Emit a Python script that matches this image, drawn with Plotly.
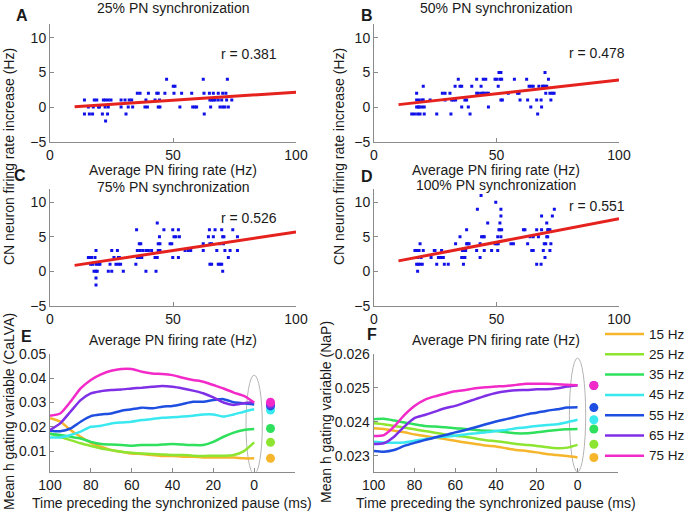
import plotly.graph_objects as go

# ---------------- data ----------------
A_points = [(14.0,1),(14.0,-1),(15.6,0),(16.0,-1),(17.3,-1),(17.6,0),(18.0,1),(19.0,1),(19.7,0),(20.1,0),
            (21.7,1),(21.3,-1),(22.4,0),(22.6,1),(22.6,-2),(23.4,-1),(23.7,1),(24.8,1),(23.7,0),(28.9,1),
            (28.9,0),(30.5,1),(30.9,-1),(31.8,0),(32.2,1),(33.2,1),(33.6,0),(35.5,2),(36.6,2),(39.0,1),
            (38.6,0),(39.6,0),(40.0,2),(42.7,1),(43.4,2),(44.0,2),(44.0,0),(44.7,0),(44.5,1),(46.7,2),
            (47.4,4),(50.1,3),(50.8,3),(50.4,2),(52.8,0),(53.5,2),(57.6,2),(58.0,0),(58.9,0),(59.6,0),
            (62.3,4),(62.6,2),(62.7,-1),(64.8,2),(65.0,1),(65.3,0),(65.7,1),(66.4,2),(66.4,1),(67.1,1),
            (68.4,2),(68.4,1),(69.1,0),(69.8,1),(70.2,2),(70.2,0),(71.1,0),(71.5,2),(72.1,4),(71.8,1),
            (72.5,0),(73.9,1)]
B_points = [(15.4,-1),(16.5,-1),(17.4,1),(17.4,0),(17.4,2),(17.8,-1),(18.1,0),(18.5,0),(18.5,1),(18.8,-1),
            (19.5,0),(19.7,1),(20.1,3),(20.1,1),(20.5,0),(20.5,-1),(22.9,1),(25.6,-1),(27.9,2),(29.0,2),
            (29.0,1),(31.0,2),(31.4,-1),(31.7,1),(32.4,1),(33.1,3),(33.3,1),(34.4,4),(35.1,3),(35.8,3),
            (35.8,0),(37.1,1),(37.8,1),(38.5,0),(39.2,-1),(39.9,3),(41.9,4),(41.9,2),(42.6,2),(43.7,3),
            (43.9,2),(44.6,2),(44.6,4),(45.0,2),(45.6,4),(46.7,0),(46.0,2),(46.7,2),(49.4,4),(50.1,4),
            (50.7,3),(51.0,5),(51.8,5),(51.4,4),(51.8,1),(52.4,1),(52.1,4),(54.8,2),(57.3,4),(58.6,2),
            (59.2,2),(59.6,1),(62.3,4),(62.7,1),(63.3,3),(64.0,0),(64.1,3),(65.0,3),(66.4,1),(66.8,-1),
            (67.3,3),(68.2,1),(68.4,0),(68.8,3),(69.1,3),(69.8,5),(69.8,3),(70.1,2),(70.5,3),(71.2,4),
            (71.8,2),(72.2,1),(72.8,2),(73.5,2)]
C_points = [(15.6,2),(16.3,2),(16.9,2),(16.5,1),(17.3,1),(18.3,2),(18.7,3),(18.7,1),(17.9,0),(18.7,0),
            (19.2,0),(18.7,-1),(18.7,-2),(19.6,1),(20.3,1),(23.7,0),(24.4,1),(25.1,0),(25.1,3),(26.0,2),
            (26.8,1),(27.4,3),(27.8,2),(28.2,2),(27.8,1),(28.7,1),(29.8,0),(34.9,1),(35.2,6),(35.5,3),
            (35.5,2),(36.3,2),(36.3,4),(36.9,4),(36.6,3),(37.3,2),(37.7,3),(39.0,0),(39.0,3),(40.0,3),
            (41.3,3),(42.7,2),(43.1,0),(43.6,7),(43.6,2),(44.0,4),(44.5,5),(44.0,3),(44.7,3),(44.7,4),
            (46.3,6),(48.8,4),(49.5,4),(49.9,6),(49.9,2),(50.4,5),(51.2,5),(52.2,6),(52.2,2),(52.6,5),
            (54.9,3),(56.2,3),(57.2,3),(62.3,4),(62.3,3),(64.4,5),(64.8,6),(65.0,4),(65.0,1),(65.7,4),
            (65.7,1),(66.4,5),(67.1,6),(67.8,3),(68.4,1),(69.1,4),(69.1,1),(69.8,6),(69.8,1),(70.2,5),
            (70.2,0),(70.5,4),(70.7,5),(71.1,3),(72.5,2),(73.2,3),(74.3,6),(76.2,5),(76.2,3)]
D_points = [(16.7,3),(17.4,3),(17.8,2),(17.4,1),(18.1,1),(17.8,0),(18.4,3),(18.8,4),(18.8,1),(19.2,2),
            (19.7,1),(20.1,3),(23.3,2),(24.6,3),(24.9,3),(25.6,1),(26.3,2),(26.9,2),(27.6,3),(27.9,2),
            (28.3,2),(28.7,1),(30.3,1),(33.3,4),(35.1,5),(35.8,2),(36.1,3),(36.5,1),(36.5,2),(36.9,3),
            (37.1,2),(37.4,3),(37.8,6),(37.8,4),(38.2,4),(38.8,4),(41.9,3),(42.2,9),(43.3,2),(43.3,4),
            (43.7,11),(43.9,5),(44.6,5),(45.0,5),(45.0,3),(46.4,7),(48.0,3),(49.4,4),(49.7,10),(50.1,4),
            (50.5,5),(50.5,3),(50.7,4),(51.0,6),(51.4,7),(51.4,6),(51.8,9),(51.8,8),(52.1,6),(51.8,5),
            (55.9,4),(56.9,4),(61.0,6),(61.6,6),(62.7,4),(63.7,5),(64.4,3),(65.0,3),(65.0,5),(66.4,6),
            (66.4,1),(67.1,5),(68.2,1),(68.4,8),(68.4,6),(69.1,3),(69.5,4),(69.8,2),(70.1,4),(70.5,7),
            (70.5,5),(70.9,6),(70.9,5),(71.2,6),(71.8,3),(71.8,6),(72.2,4),(72.8,8),(73.6,9)]

fit_x = [10, 100]
fit_A = [0.05, 2.15]
fit_B = [0.35, 3.9]
fit_C = [0.85, 5.7]
fit_D = [1.5, 7.6]
r_labels = ["r = 0.381", "r = 0.478", "r = 0.526", "r = 0.551"]
sync_titles = ["25% PN synchronization", "50% PN synchronization",
               "75% PN synchronization", "100% PN synchronization"]

freq_labels = ["15 Hz", "25 Hz", "35 Hz", "45 Hz", "55 Hz", "65 Hz", "75 Hz"]
freq_colors = ["#f6b62c", "#8ee531", "#2ee05c", "#3ae8f0", "#1f4fe0", "#7f2fe6", "#f22ac8"]

time_ms = [100, 95, 90, 85, 80, 75, 70, 65, 60, 55, 50, 45, 40, 35, 30, 25, 20, 15, 10, 5, 0]

E_15 = [0.0235,0.0221,0.0187,0.0159,0.0134,0.0118,0.0104,0.0097,0.0090,0.0088,0.0084,0.0080,0.0080,0.0077,0.0077,0.0074,0.0074,0.0073,0.0073,0.0070,0.0070]
E_25 = [0.0173,0.0159,0.0145,0.0132,0.0121,0.0111,0.0104,0.0097,0.0093,0.0090,0.0088,0.0086,0.0084,0.0084,0.0081,0.0080,0.0081,0.0081,0.0084,0.0100,0.0136]
E_35 = [0.0170,0.0166,0.0159,0.0152,0.0138,0.0129,0.0127,0.0125,0.0122,0.0125,0.0125,0.0127,0.0129,0.0127,0.0125,0.0125,0.0138,0.0159,0.0176,0.0187,0.0191]
E_45 = [0.0156,0.0156,0.0166,0.0180,0.0200,0.0204,0.0214,0.0218,0.0221,0.0228,0.0232,0.0237,0.0239,0.0242,0.0246,0.0251,0.0251,0.0242,0.0251,0.0262,0.0272]
E_55 = [0.0184,0.0182,0.0193,0.0221,0.0244,0.0251,0.0255,0.0266,0.0272,0.0279,0.0276,0.0283,0.0286,0.0294,0.0303,0.0303,0.0310,0.0314,0.0301,0.0297,0.0292]
E_65 = [0.0187,0.0214,0.0262,0.0310,0.0338,0.0347,0.0352,0.0354,0.0358,0.0361,0.0365,0.0368,0.0365,0.0358,0.0349,0.0338,0.0321,0.0300,0.0290,0.0297,0.0301]
E_75 = [0.0246,0.0255,0.0303,0.0358,0.0393,0.0416,0.0431,0.0438,0.0438,0.0427,0.0420,0.0418,0.0413,0.0402,0.0393,0.0386,0.0372,0.0358,0.0341,0.0327,0.0300]
E_dots = [0.0070, 0.0136, 0.0193, 0.0269, 0.0286, 0.0294, 0.0301]

F_15 = [0.02381,0.02379,0.02374,0.02369,0.02363,0.02358,0.02354,0.02349,0.02344,0.02339,0.02335,0.02330,0.02327,0.02322,0.02317,0.02314,0.02310,0.02305,0.02302,0.02299,0.02295]
F_25 = [0.02396,0.02393,0.02388,0.02383,0.02378,0.02373,0.02368,0.02363,0.02359,0.02356,0.02351,0.02346,0.02343,0.02339,0.02335,0.02332,0.02329,0.02325,0.02322,0.02324,0.02332]
F_35 = [0.02408,0.02409,0.02404,0.02398,0.02393,0.02388,0.02386,0.02384,0.02381,0.02379,0.02376,0.02374,0.02373,0.02369,0.02366,0.02366,0.02369,0.02373,0.02376,0.02378,0.02379]
F_45 = [0.02341,0.02339,0.02338,0.02339,0.02344,0.02349,0.02354,0.02356,0.02359,0.02363,0.02366,0.02369,0.02373,0.02376,0.02381,0.02384,0.02388,0.02391,0.02393,0.02399,0.02406]
F_55 = [0.02314,0.02312,0.02317,0.02329,0.02338,0.02346,0.02354,0.02361,0.02369,0.02376,0.02384,0.02393,0.02401,0.02408,0.02415,0.02422,0.02427,0.02433,0.02437,0.02442,0.02443]
F_65 = [0.02335,0.02337,0.02356,0.02386,0.02411,0.02420,0.02430,0.02440,0.02447,0.02457,0.02467,0.02477,0.02485,0.02490,0.02493,0.02494,0.02496,0.02496,0.02499,0.02504,0.02508]
F_75 = [0.02358,0.02361,0.02386,0.02420,0.02447,0.02465,0.02475,0.02483,0.02490,0.02494,0.02499,0.02502,0.02504,0.02506,0.02509,0.02512,0.02512,0.02512,0.02511,0.02509,0.02508]
F_dots = [0.02295, 0.02334, 0.02379, 0.02406, 0.02442, 0.02507, 0.02507]
dot_x = -8

E_ellipse_y = [0.0005, 0.0413]
F_ellipse_y = [0.02252, 0.02588]
ellipse_x = [-4, 4]

# ---------------- figure ----------------
W, H = 686, 514
FONT = "Liberation Sans, Arial, sans-serif"
TXT = "#1a1a1a"
AXC = "#8a8a8a"


def px(x):
    return x / W


def py(y):
    return 1 - y / H


fig = go.Figure()

scatter_sets = [A_points, B_points, C_points, D_points]
fits = [fit_A, fit_B, fit_C, fit_D]
for i in range(4):
    ax = "" if i == 0 else str(i + 1)
    xs = [p[0] for p in scatter_sets[i]]
    ys = [p[1] for p in scatter_sets[i]]
    fig.add_trace(go.Scatter(x=xs, y=ys, mode="markers", xaxis="x" + ax, yaxis="y" + ax,
                             marker=dict(symbol="square", size=3, color="#1010e8", line=dict(width=0)),
                             showlegend=False, hoverinfo="skip"))
    fig.add_trace(go.Scatter(x=fit_x, y=fits[i], mode="lines", xaxis="x" + ax, yaxis="y" + ax,
                             line=dict(color="#e5221d", width=3), showlegend=False, hoverinfo="skip"))

E_series = [E_15, E_25, E_35, E_45, E_55, E_65, E_75]
F_series = [F_15, F_25, F_35, F_45, F_55, F_65, F_75]
for k in range(7):
    fig.add_trace(go.Scatter(x=time_ms, y=E_series[k], mode="lines", xaxis="x5", yaxis="y5",
                             name=freq_labels[k],
                             line=dict(color=freq_colors[k], width=2.5, shape="spline", smoothing=0.6),
                             showlegend=False))
    fig.add_trace(go.Scatter(x=time_ms, y=F_series[k], mode="lines", xaxis="x6", yaxis="y6",
                             name=freq_labels[k],
                             line=dict(color=freq_colors[k], width=2.5, shape="spline", smoothing=0.6),
                             showlegend=False))
for k in range(7):
    fig.add_trace(go.Scatter(x=[dot_x], y=[E_dots[k]], mode="markers", xaxis="x5", yaxis="y5",
                             marker=dict(size=9, color=freq_colors[k]), showlegend=False))
    fig.add_trace(go.Scatter(x=[dot_x], y=[F_dots[k]], mode="markers", xaxis="x6", yaxis="y6",
                             marker=dict(size=9, color=freq_colors[k]), showlegend=False))

base = dict(showline=True, linecolor=AXC, linewidth=1, ticks="inside", ticklen=4, tickcolor=AXC,
            showgrid=False, zeroline=False, mirror=False, fixedrange=True,
            tickfont=dict(size=14, color=TXT, family=FONT))

left_x = (50, 296)
right_x = (374, 619)
top_y = (23.9, 141.7)
mid_y = (188.5, 305.7)
bot_y = (354, 471.7)
panels = [
    ("", left_x, top_y), ("2", right_x, top_y),
    ("3", left_x, mid_y), ("4", right_x, mid_y),
]
layout = {}
for ax, xd, yd in panels:
    layout["xaxis" + ax] = dict(base, domain=[px(xd[0]), px(xd[1])], range=[0, 100],
                                tickvals=[0, 50, 100], anchor="y" + ax)
    layout["yaxis" + ax] = dict(base, domain=[py(yd[1]), py(yd[0])], range=[-5, 12],
                                tickvals=[-5, 0, 5, 10], anchor="x" + ax)

layout["xaxis5"] = dict(base, domain=[px(50), px(295)], range=[100, -20],
                        tickvals=[100, 80, 60, 40, 20, 0], anchor="y5")
layout["yaxis5"] = dict(base, domain=[py(bot_y[1]), py(bot_y[0])], range=[0.0015, 0.05],
                        tickvals=[0.01, 0.02, 0.03, 0.04, 0.05],
                        ticktext=["0.01", "0.02", "0.03", "0.04", "0.05"], anchor="x5")
layout["xaxis6"] = dict(base, domain=[px(373.7), px(618.3)], range=[100, -20],
                        tickvals=[100, 80, 60, 40, 20, 0], anchor="y6")
layout["yaxis6"] = dict(base, domain=[py(bot_y[1]), py(bot_y[0])], range=[0.02253, 0.026],
                        tickvals=[0.023, 0.024, 0.025, 0.026],
                        ticktext=["0.023", "0.024", "0.025", "0.026"], anchor="x6")

annotations = []


def txt(x, y, s, size=14, bold=False, angle=0, xanchor="center"):
    annotations.append(dict(x=px(x), y=py(y), xref="paper", yref="paper", text=("<b>%s</b>" % s) if bold else s,
                            showarrow=False, textangle=angle, xanchor=xanchor, yanchor="middle",
                            font=dict(size=size, color=TXT, family=FONT)))


# titles
txt(173, 8, sync_titles[0])
txt(496, 8, sync_titles[1])
txt(173, 187, sync_titles[2])
txt(496, 185, sync_titles[3])
# x labels
for xx, yy in [(173, 170), (496, 170), (173, 340), (496, 340)]:
    txt(xx, yy, "Average PN firing rate (Hz)")
txt(172, 503, "Time preceding the synchronized pause (ms)")
txt(496, 503, "Time preceding the synchronized pause (ms)")
# y labels
txt(9, 157, "CN neuron firing rate increase (Hz)", angle=-90)
txt(339, 157, "CN neuron firing rate increase (Hz)", angle=-90)
txt(9, 412, "Mean h gating variable (CaLVA)", angle=-90)
txt(326, 412, "Mean h gating variable (NaP)", angle=-90)
# panel letters
for lab, xx, yy in [("A", 22, 15), ("B", 367, 15), ("C", 20, 175), ("D", 367, 176), ("E", 26, 336), ("F", 372, 334)]:
    txt(xx, yy, lab, size=16, bold=True)

# r values
r_pos = [(81, 7.7), (91, 7.8), (81, 7.7), (91, 9.5)]
for i in range(4):
    ax = "" if i == 0 else str(i + 1)
    annotations.append(dict(x=r_pos[i][0], y=r_pos[i][1], xref="x" + ax, yref="y" + ax, text=r_labels[i],
                            showarrow=False, font=dict(size=14, color=TXT, family=FONT)))

shapes = [
    dict(type="circle", xref="x5", yref="y5", x0=ellipse_x[0], x1=ellipse_x[1],
         y0=E_ellipse_y[0], y1=E_ellipse_y[1], line=dict(color="#b4b4b4", width=1), layer="below"),
    dict(type="circle", xref="x6", yref="y6", x0=ellipse_x[0], x1=ellipse_x[1],
         y0=F_ellipse_y[0], y1=F_ellipse_y[1], line=dict(color="#b4b4b4", width=1), layer="below"),
]

# legend (line samples + labels) to the right of panel F
for k in range(7):
    yk = 334 + 20.3 * k
    shapes.append(dict(type="line", xref="paper", yref="paper", x0=px(605), x1=px(644),
                       y0=py(yk), y1=py(yk), line=dict(color=freq_colors[k], width=2.5)))
    txt(647, yk, freq_labels[k], size=13.5, xanchor="left")

fig.update_layout(
    width=W, height=H,
    margin=dict(l=0, r=0, t=0, b=0, autoexpand=False),
    paper_bgcolor="white", plot_bgcolor="white",
    font=dict(family=FONT, size=14, color=TXT),
    annotations=annotations, shapes=shapes,
    showlegend=False,
    **layout,
)

fig.write_html("out.html",
               config={"displayModeBar": False},
               post_script="document.body.style.margin='0';document.body.style.padding='0';"
                           "document.body.style.overflow='hidden';")
